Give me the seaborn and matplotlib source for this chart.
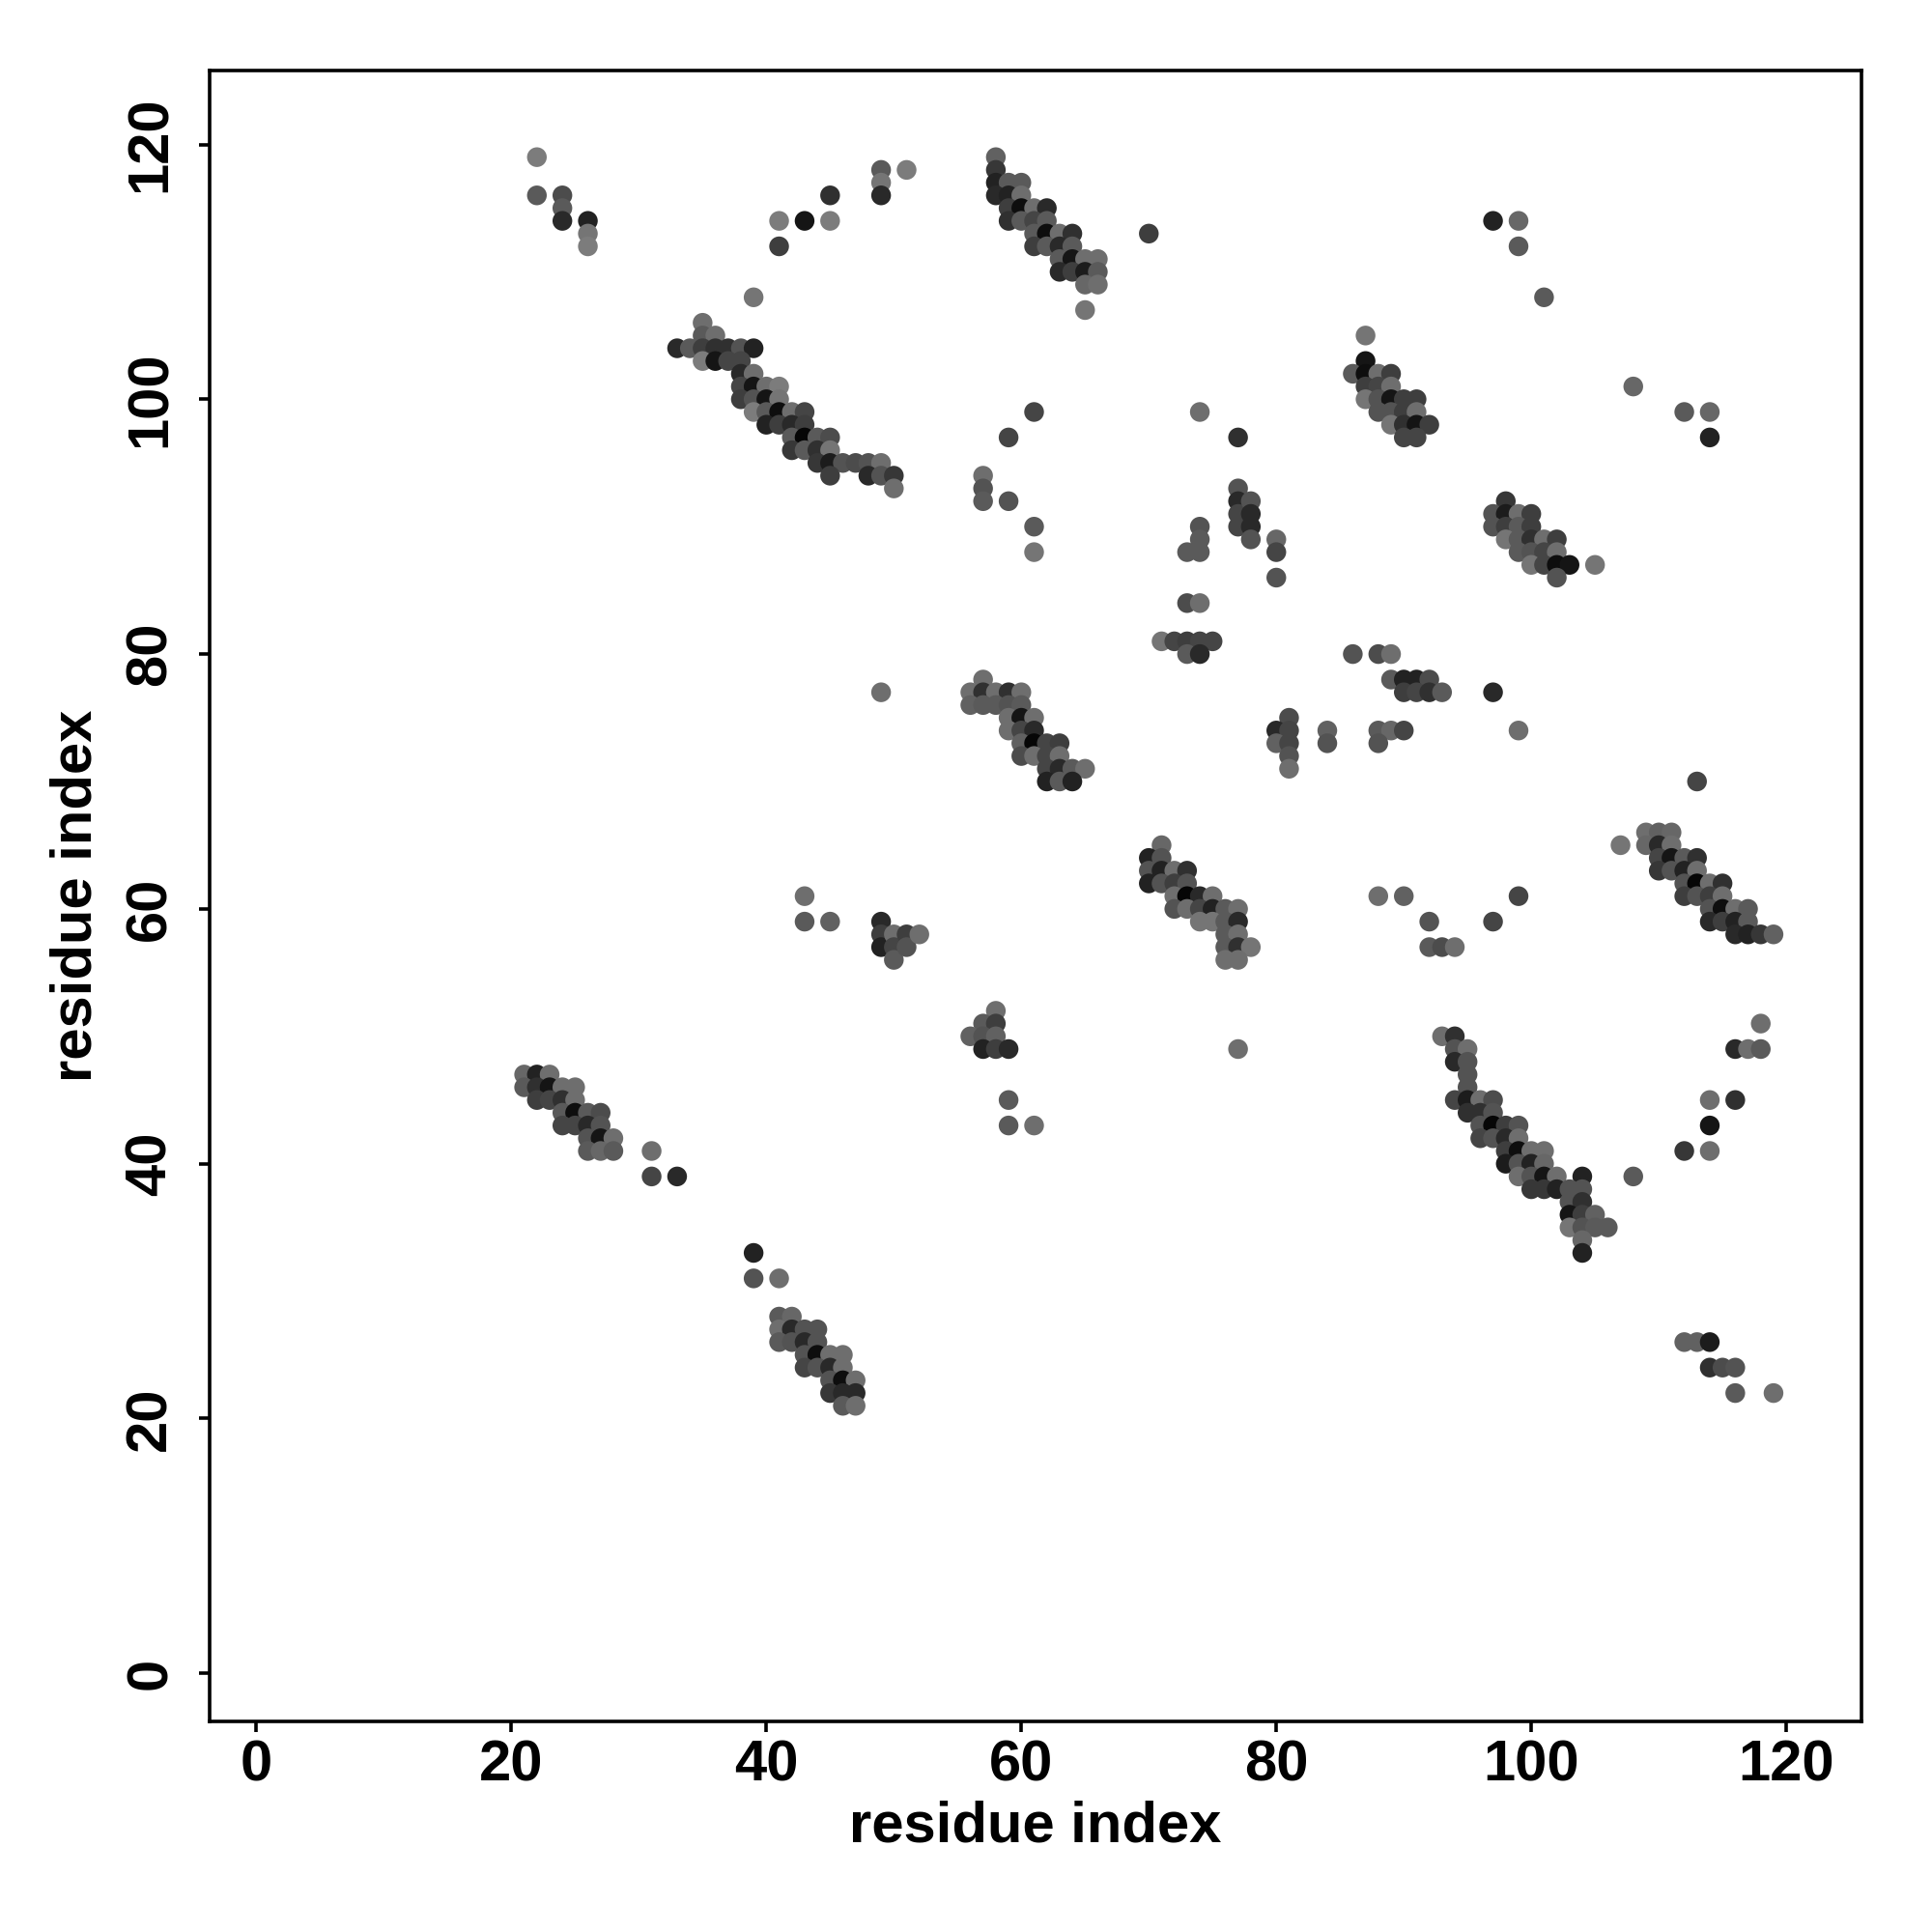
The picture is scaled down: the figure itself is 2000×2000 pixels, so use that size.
import matplotlib
matplotlib.use("Agg")
import matplotlib.pyplot as plt
import seaborn as sns
import pandas as pd
from matplotlib.colors import LinearSegmentedColormap

# (residue i, residue j, contact score 0..1 ; darker = higher)
contacts_top_left = [
    (22,119,0.1),(22,116,0.35),(24,116,0.45),(24,115,0.35),(24,114,0.7),(26,114,0.75),(26,113,0.15),(26,112,0.1),
    (41,114,0.1),(41,112,0.55),(43,114,0.85),(45,116,0.65),(45,114,0.1),(49,118,0.35),(49,117,0.15),(49,116,0.7),
    (51,118,0.1),(39,108,0.15),
]
contacts_band_a = [
    (35,106,0.2),(35,105,0.35),(36,105,0.2),
    (33,104,0.7),(34,104,0.35),(35,104,0.55),(36,104,0.65),(37,104,0.65),(38,104,0.4),(39,104,0.75),
    (35,103,0.1),(36,103,0.85),(37,103,0.5),(38,103,0.5),
    (38,102,0.7),(39,102,0.2),
    (38,101,0.5),(39,101,0.85),(40,101,0.2),(41,101,0.1),
    (38,100,0.55),(39,100,0.4),(40,100,0.85),(41,100,0.15),
    (39,99,0.1),(40,99,0.35),(41,99,0.9),(42,99,0.2),(43,99,0.5),
    (40,98,0.75),(41,98,0.55),(42,98,0.7),(43,98,0.55),
    (42,97,0.35),(43,97,0.95),(44,97,0.35),(45,97,0.45),
    (42,96,0.6),(43,96,0.35),(44,96,0.65),(45,96,0.15),
    (44,95,0.6),(45,95,0.8),(46,95,0.4),(47,95,0.45),(48,95,0.4),(49,95,0.2),
    (45,94,0.55),(48,94,0.7),(49,94,0.4),(50,94,0.6),
    (50,93,0.2),
]
contacts_band_b = [
    (58,119,0.3),(58,118,0.6),(58,117,0.75),(59,117,0.35),(60,117,0.35),
    (58,116,0.7),(59,116,0.75),(60,116,0.2),
    (59,115,0.55),(60,115,0.9),(61,115,0.2),(62,115,0.7),
    (59,114,0.65),(60,114,0.35),(61,114,0.5),(62,114,0.35),
    (61,113,0.35),(62,113,0.9),(63,113,0.2),(64,113,0.65),(70,113,0.55),
    (61,112,0.55),(62,112,0.35),(63,112,0.7),(64,112,0.35),
    (63,111,0.35),(64,111,0.85),(65,111,0.2),(66,111,0.2),
    (63,110,0.7),(64,110,0.55),(65,110,0.8),(66,110,0.35),
    (65,109,0.25),(66,109,0.2),(65,107,0.15),
    (61,99,0.5),(59,97,0.5),(57,94,0.2),(57,93,0.4),(57,92,0.35),(59,92,0.4),(61,90,0.35),(61,88,0.15),
]
contacts_upper_right = [
    (97,114,0.75),(99,114,0.25),(99,112,0.35),(101,108,0.35),
    (87,105,0.15),(87,103,0.85),(86,102,0.35),(87,102,0.9),(88,102,0.2),(89,102,0.55),
    (87,101,0.55),(88,101,0.5),(89,101,0.2),
    (87,100,0.15),(88,100,0.4),(89,100,0.85),(90,100,0.55),(91,100,0.55),
    (88,99,0.4),(89,99,0.4),(90,99,0.55),(91,99,0.2),
    (89,98,0.15),(90,98,0.65),(91,98,0.85),(92,98,0.55),
    (90,97,0.5),(91,97,0.5),
    (108,101,0.25),(112,99,0.35),(114,99,0.25),(114,97,0.75),
    (98,92,0.6),(97,91,0.4),(98,91,0.8),(99,91,0.2),(100,91,0.55),
    (97,90,0.4),(98,90,0.55),(99,90,0.35),(100,90,0.55),
    (98,89,0.15),(99,89,0.35),(100,89,0.65),(101,89,0.2),(102,89,0.55),
    (99,88,0.35),(100,88,0.4),(101,88,0.5),(102,88,0.2),
    (100,87,0.15),(101,87,0.5),(102,87,0.9),(103,87,0.85),(105,87,0.15),
    (102,86,0.4),
]
contacts_middle = [
    (74,99,0.2),(77,97,0.65),(77,93,0.4),(77,92,0.7),(77,91,0.5),(77,90,0.5),
    (78,92,0.4),(78,91,0.7),(78,90,0.7),(78,89,0.4),
    (80,89,0.25),(80,88,0.5),(80,86,0.4),
    (74,90,0.4),(74,89,0.35),(74,88,0.35),(73,88,0.35),
    (73,84,0.45),(74,84,0.2),
    (71,81,0.15),(72,81,0.5),(73,81,0.55),(74,81,0.5),(75,81,0.5),
    (73,80,0.35),(74,80,0.7),
    (86,80,0.4),(88,80,0.45),(89,80,0.2),
    (89,78,0.35),(90,78,0.75),(91,78,0.75),(92,78,0.45),
    (90,77,0.55),(91,77,0.5),(92,77,0.65),(93,77,0.35),(97,77,0.7),
    (81,75,0.45),(80,74,0.7),(81,74,0.5),(84,74,0.3),(88,74,0.35),(89,74,0.25),(90,74,0.5),(99,74,0.2),
    (80,73,0.3),(81,73,0.5),(84,73,0.4),(88,73,0.4),
    (81,72,0.4),(81,71,0.2),
]
contacts_band_c = [
    (49,77,0.2),(57,78,0.2),
    (56,77,0.2),(57,77,0.65),(58,77,0.2),(59,77,0.65),(60,77,0.2),
    (56,76,0.3),(57,76,0.35),(58,76,0.35),(59,76,0.4),(60,76,0.35),
    (59,75,0.2),(60,75,0.85),(61,75,0.2),
    (59,74,0.2),(60,74,0.5),(61,74,0.7),
    (60,73,0.3),(61,73,0.95),(62,73,0.5),(63,73,0.55),
    (60,72,0.45),(61,72,0.2),(62,72,0.5),(63,72,0.2),
    (62,71,0.5),(63,71,0.7),(64,71,0.35),(65,71,0.2),
    (62,70,0.75),(63,70,0.35),(64,70,0.75),
]
contacts_band_d = [
    (43,61,0.2),(43,59,0.35),(45,59,0.3),
    (49,59,0.7),(49,58,0.55),(49,57,0.75),
    (50,58,0.2),(50,57,0.5),(50,56,0.35),
    (51,58,0.55),(51,57,0.4),(52,58,0.2),
    (71,65,0.25),
    (70,64,0.75),(71,64,0.4),
    (70,63,0.4),(71,63,0.75),(72,63,0.2),(73,63,0.65),
    (70,62,0.75),(71,62,0.4),(72,62,0.55),(73,62,0.4),
    (72,61,0.2),(73,61,0.95),(74,61,0.7),(75,61,0.2),
    (72,60,0.4),(73,60,0.2),(74,60,0.5),(75,60,0.75),(76,60,0.35),(77,60,0.2),
    (74,59,0.15),(75,59,0.15),(76,59,0.35),(77,59,0.7),
    (76,58,0.35),(77,58,0.2),
    (76,57,0.35),(77,57,0.65),(78,57,0.15),
    (76,56,0.2),(77,56,0.2),
]
contacts_band_e = [
    (113,70,0.5),(109,66,0.2),(110,66,0.3),(111,66,0.25),(107,65,0.15),
    (109,65,0.25),(110,65,0.7),(111,65,0.2),
    (110,64,0.5),(111,64,0.85),(112,64,0.35),(113,64,0.65),
    (110,63,0.6),(111,63,0.4),(112,63,0.75),(113,63,0.2),
    (112,62,0.4),(113,62,0.95),(114,62,0.2),(115,62,0.65),
    (112,61,0.55),(113,61,0.4),(114,61,0.55),(115,61,0.2),
    (114,60,0.4),(115,60,0.9),(116,60,0.2),(117,60,0.35),
    (114,59,0.7),(115,59,0.55),(116,59,0.75),(117,59,0.35),
    (116,58,0.7),(117,58,0.75),(118,58,0.6),(119,58,0.3),
    (88,61,0.2),(90,61,0.3),(99,61,0.5),
    (92,59,0.4),(97,59,0.5),
    (92,57,0.35),(93,57,0.45),(94,57,0.2),
]
contacts_lower_mid = [
    (58,52,0.2),(57,51,0.35),(58,51,0.55),(56,50,0.3),(57,50,0.4),(58,50,0.3),
    (57,49,0.75),(58,49,0.55),(59,49,0.7),(77,49,0.2),(59,45,0.35),(59,43,0.35),(61,43,0.2),
]
contacts_band_f = [
    (21,47,0.25),(22,47,0.75),(23,47,0.2),
    (21,46,0.35),(22,46,0.65),(23,46,0.85),(24,46,0.2),(25,46,0.2),
    (22,45,0.55),(23,45,0.5),(24,45,0.65),(25,45,0.2),
    (24,44,0.35),(25,44,0.9),(26,44,0.35),(27,44,0.45),
    (24,43,0.5),(25,43,0.5),(26,43,0.7),(27,43,0.4),
    (26,42,0.4),(27,42,0.85),(28,42,0.2),
    (26,41,0.35),(27,41,0.25),(28,41,0.35),
    (31,41,0.2),(31,39,0.5),(33,39,0.7),
]
contacts_band_g = [
    (93,50,0.2),(94,50,0.65),(94,49,0.4),(95,49,0.2),(94,48,0.7),(95,48,0.4),(95,47,0.4),(95,46,0.4),
    (94,45,0.5),(95,45,0.8),(96,45,0.2),(97,45,0.45),
    (95,44,0.65),(96,44,0.65),(97,44,0.4),
    (96,43,0.4),(97,43,0.95),(98,43,0.55),(99,43,0.4),
    (96,42,0.5),(97,42,0.4),(98,42,0.7),(99,42,0.2),
    (98,41,0.55),(99,41,0.9),(100,41,0.2),(101,41,0.2),
    (98,40,0.8),(99,40,0.4),(100,40,0.75),(101,40,0.25),
    (99,39,0.2),(100,39,0.4),(101,39,0.85),(102,39,0.2),(104,39,0.75),(108,39,0.35),
    (100,38,0.6),(101,38,0.6),(102,38,0.75),(103,38,0.4),(104,38,0.4),
    (103,37,0.4),(104,37,0.65),
    (103,36,0.85),(104,36,0.55),(105,36,0.3),
    (103,35,0.15),(104,35,0.4),(105,35,0.35),(106,35,0.35),
    (104,34,0.25),(104,33,0.75),
    (118,51,0.2),(116,49,0.7),(117,49,0.2),(118,49,0.35),
    (114,45,0.2),(116,45,0.65),(114,43,0.85),(112,41,0.6),(114,41,0.2),
]
contacts_band_h = [
    (39,33,0.75),(39,31,0.4),(41,31,0.2),
    (41,28,0.35),(42,28,0.25),
    (41,27,0.2),(42,27,0.7),(43,27,0.4),(44,27,0.4),
    (41,26,0.35),(42,26,0.4),(43,26,0.7),(44,26,0.4),
    (43,25,0.4),(44,25,0.9),(45,25,0.2),(46,25,0.2),
    (43,24,0.5),(44,24,0.4),(45,24,0.7),(46,24,0.2),
    (45,23,0.4),(46,23,0.9),(47,23,0.2),
    (45,22,0.6),(46,22,0.7),(47,22,0.7),
    (46,21,0.35),(47,21,0.2),
    (112,26,0.3),(113,26,0.3),(114,26,0.8),(114,24,0.65),(115,24,0.45),(116,24,0.4),(116,22,0.35),(119,22,0.2),
]

tick_values = [0, 20, 40, 60, 80, 100, 120]
axis_label = "residue index"

all_contacts = (contacts_top_left + contacts_band_a + contacts_band_b + contacts_upper_right +
                contacts_middle + contacts_band_c + contacts_band_d + contacts_band_e +
                contacts_lower_mid + contacts_band_f + contacts_band_g + contacts_band_h)
df = pd.DataFrame(all_contacts, columns=["i", "j", "score"])

sns.set_style("white")
plt.rcParams['font.family'] = ['Liberation Sans', 'DejaVu Sans']
plt.rcParams['font.weight'] = 'bold'
plt.rcParams['text.color'] = 'black'
plt.rcParams['axes.labelcolor'] = 'black'
plt.rcParams['xtick.color'] = 'black'
plt.rcParams['ytick.color'] = 'black'

fig = plt.figure(figsize=(10, 10), dpi=200)
ax = fig.add_axes([0.1085, 0.109, 0.855, 0.8545])

cmap = LinearSegmentedColormap.from_list("greys", ["#8a8a8a", "#000000"])
sns.scatterplot(data=df, x="i", y="j", hue="score", palette=cmap, hue_norm=(0, 1),
                s=54, linewidth=0, legend=False, ax=ax)

ax.set_xlim(-3.67, 125.9)
ax.set_ylim(-3.77, 125.8)
ax.set_xticks(tick_values)
ax.set_yticks(tick_values)
ax.set_xticklabels([str(t) for t in tick_values], fontsize=21.5, fontweight='bold', color='black')
ax.set_yticklabels([str(t) for t in tick_values], fontsize=21.5, fontweight='bold', color='black',
                   rotation=90, va='center')
ax.tick_params(axis='both', direction='out', length=4, width=1.3, color='black',
               bottom=True, left=True)
ax.tick_params(axis='x', pad=2.5)
ax.tick_params(axis='y', pad=8)
for sp in ax.spines.values():
    sp.set_visible(True)
    sp.set_color('black')
    sp.set_linewidth(1.3)

ax.set_xlabel(axis_label, fontsize=21.5, fontweight='bold', color='black')
ax.set_ylabel(axis_label, fontsize=21.5, fontweight='bold', color='black')
ax.xaxis.label.set_va('center')
ax.yaxis.label.set_va('center')
ax.xaxis.set_label_coords(0.5, -0.064)
ax.yaxis.set_label_coords(-0.0807, 0.5)
ax.grid(False)

fig.savefig("out.png", dpi=200, facecolor='white')
